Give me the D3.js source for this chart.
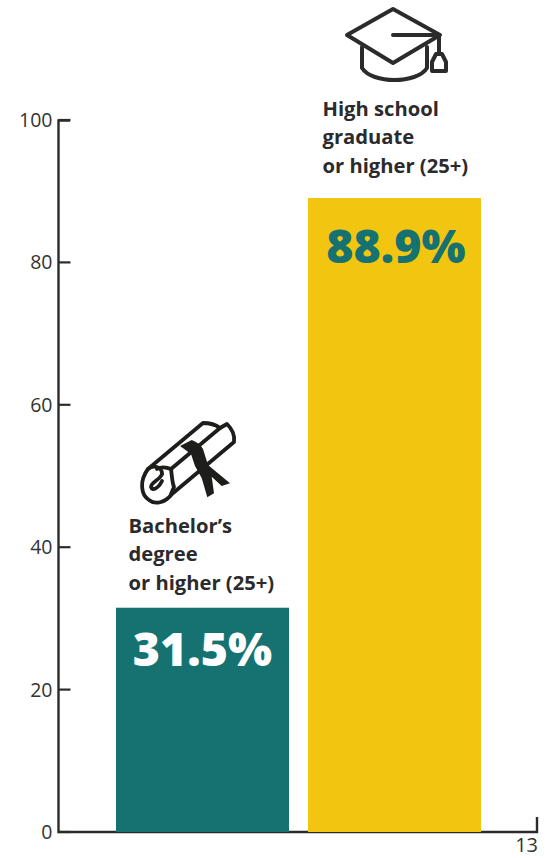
<!DOCTYPE html>
<html><head><meta charset="utf-8">
<script src="https://d3js.org/d3.v7.min.js"></script>
<style>html,body{margin:0;padding:0;background:#fff}svg{display:block}</style>
</head><body><svg id="c" width="548" height="858"></svg>
<script>
const categories = ["Bachelor's degree or higher (25+)", "High school graduate or higher (25+)"];
const values = [31.5, 88.9];
const valueLabels = ["31.5%", "88.9%"];
const labelLines = [["Bachelor’s","degree","or higher (25+)"],["High school","graduate","or higher (25+)"]];
const barColors = ["#167271", "#f2c511"];
const valueColors = ["#ffffff", "#167271"];
const yTicks = [0,20,40,60,80,100];
const pageNumber = "13";

const svg = d3.select("#c");
const y = d3.scaleLinear().domain([0,100]).range([832,120]);
const x = d3.scaleBand().domain(categories).range([116,481]).paddingInner(0.099);
const ink = "#2b2a2c";

svg.append("path").attr("d","M70 120.5H58.5V832H537V817").attr("fill","none").attr("stroke",ink).attr("stroke-width",2.4);
const tg = svg.append("g").attr("transform","translate(58.5,0)");
tg.selectAll("line").data(yTicks).join("line").attr("x1",0).attr("x2",12)
  .attr("y1",d=>y(d)).attr("y2",d=>y(d)).attr("stroke",ink).attr("stroke-width",2.2);
tg.selectAll("text").data(yTicks).join("text").attr("x",-6).attr("y",d=>y(d)+7).attr("text-anchor","end")
  .attr("font-family","'Open Sans'").attr("font-size",19.5).attr("fill","#333").text(d=>d);

svg.selectAll("rect.bar").data(categories).join("rect").attr("class","bar")
  .attr("x",d=>x(d)).attr("width",x.bandwidth())
  .attr("y",(d,i)=>y(values[i])-(i?1:0)).attr("height",(d,i)=>y(0)-y(values[i])+(i?1:0))
  .attr("fill",(d,i)=>barColors[i]);

svg.selectAll("text.val").data(categories).join("text").attr("class","val")
  .attr("x",(d,i)=>x(d)+x.bandwidth()/2+(i?1.5:0)).attr("y",(d,i)=>y(values[i])+(i?64:58.5))
  .attr("text-anchor","middle").attr("font-family","'Open Sans'").attr("font-weight",800)
  .attr("font-size",46.5).attr("fill",(d,i)=>valueColors[i]).text((d,i)=>valueLabels[i]);

categories.forEach((c,i)=>{
  labelLines[i].forEach((t,j)=>{
    svg.append("text").attr("x",x(c)+(i?14.5:12.5)).attr("y",y(values[i])-(i?83.5:75)+j*28.7)
      .attr("font-family","'Open Sans'").attr("font-weight",700).attr("font-size",20.2).attr("fill","#2b2a2c").text(t);
  });
});

svg.append("text").attr("x",538).attr("y",852).attr("text-anchor","end")
  .attr("font-family","'Open Sans'").attr("font-size",20).attr("fill","#333").text(pageNumber);

// graduation cap icon
const cap = svg.append("g").attr("fill","none").attr("stroke","#2b2a2c").attr("stroke-width",4).attr("stroke-linejoin","round").attr("stroke-linecap","round");
cap.append("path").attr("d","M393 9L347 35L393 63L440 35Z");
cap.append("path").attr("d","M393 35H439V53");
cap.append("path").attr("d","M362 47V68C372 84 417 84 427 68V47");
cap.append("path").attr("d","M436 54L432 62V71H446V62L442 54Z");
// diploma icon
const sc = svg.append("g").attr("fill","none").attr("stroke","#1d1d1b").attr("stroke-width",3.8).attr("stroke-linejoin","round").attr("stroke-linecap","round");
sc.append("path").attr("d","M148 469L203 423C210 423 216 425 220 428L171 469C166 467 160 467 157 469");
sc.append("path").attr("d","M220 428L227 424C233 430 235 436 234 442L172 494C165 503 155 505 149 500C141 495 139 481 148 469C153 465 162 466 162 474");
sc.append("path").attr("d","M162 474C160 480 151 482 151 487C152 491 158 489 162 481");
sc.append("path").attr("d","M171 469C172 476 172 482 174 487L171 494");
svg.append("path").attr("fill","#1d1d1b").attr("d","M180 446L191.7 440C197 442 201 445 203 449L208 465L230 483.3L221.7 486L211.7 476.7L214 493.3L207.3 497.3L201.7 478L195 466L191 454Z");
</script></body></html>
